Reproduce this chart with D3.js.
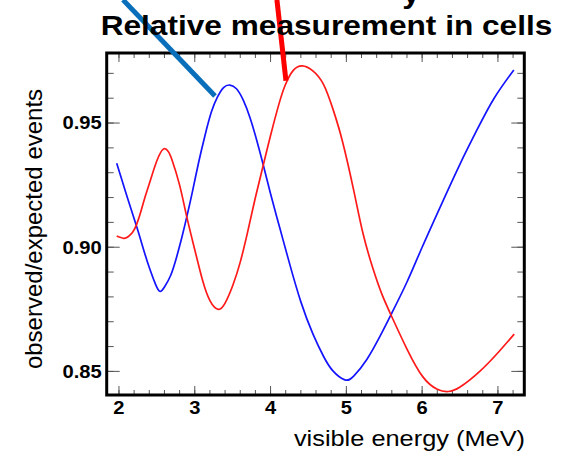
<!DOCTYPE html>
<html>
<head>
<meta charset="utf-8">
<script src="https://cdn.jsdelivr.net/npm/d3@7"></script>
<style>
  body { margin: 0; background: #fff; }
  svg { display: block; font-family: "Liberation Sans", Arial, sans-serif; }
</style>
</head>
<body>
<svg id="vis"></svg>
<script>
// values (energy in MeV, ratio observed/expected)
const blueEnergy = [1.97, 2.10, 2.233, 2.33, 2.40, 2.46, 2.53, 2.60, 2.68, 2.76, 2.83, 2.893, 2.97, 3.05, 3.135, 3.22, 3.30, 3.38, 3.464, 3.55, 3.64, 3.73, 3.82, 3.904, 4.00, 4.124, 4.25, 4.40, 4.56, 4.70, 4.82, 4.98, 5.10, 5.27, 5.45, 5.60, 5.80, 6.00, 6.28, 6.50, 6.72, 6.95, 7.21];
const blueRatio  = [0.9338, 0.9210, 0.9083, 0.8985, 0.8918, 0.8868, 0.8824, 0.8840, 0.8885, 0.8960, 0.9040, 0.9120, 0.9225, 0.9340, 0.9450, 0.9545, 0.9605, 0.9643, 0.9653, 0.9638, 0.9592, 0.9520, 0.9428, 0.9331, 0.9215, 0.9075, 0.8935, 0.8780, 0.8650, 0.8560, 0.8503, 0.8466, 0.8482, 0.8548, 0.8645, 0.8735, 0.8860, 0.9000, 0.9190, 0.9335, 0.9470, 0.9600, 0.9714];

const redEnergy = [1.97, 2.06, 2.12, 2.18, 2.233, 2.29, 2.35, 2.42, 2.50, 2.585, 2.65, 2.70, 2.80, 2.89, 3.00, 3.10, 3.20, 3.31, 3.40, 3.50, 3.60, 3.70, 3.80, 3.904, 4.00, 4.10, 4.19, 4.30, 4.42, 4.55, 4.70, 4.83, 4.95, 5.10, 5.22, 5.35, 5.47, 5.60, 5.80, 6.01, 6.20, 6.344, 6.50, 6.76, 7.00, 7.215];
const redRatio  = [0.9045, 0.9036, 0.9042, 0.9060, 0.9092, 0.9145, 0.9208, 0.9275, 0.9348, 0.9395, 0.9385, 0.9351, 0.9250, 0.9128, 0.8990, 0.8870, 0.8785, 0.8750, 0.8775, 0.8845, 0.8940, 0.9065, 0.9200, 0.9331, 0.9450, 0.9565, 0.9650, 0.9712, 0.9730, 0.9712, 0.9655, 0.9550, 0.9425, 0.9225, 0.9055, 0.8915, 0.8810, 0.8720, 0.8590, 0.8478, 0.8428, 0.8419, 0.8437, 0.8500, 0.8575, 0.8650];

const xTicks = [2, 3, 4, 5, 6, 7];
const yTicks = [0.85, 0.90, 0.95];
const yTickLabels = ["0.85", "0.90", "0.95"];

// pointer lines coming down from the slide text above, in data units
const blueCallout = [[2.053, 0.9996], [3.267, 0.9609]];
const redCallout = [[4.084, 0.9996], [4.203, 0.9670]];

const titleText = "Relative measurement in cells";
const xTitle = "visible energy (MeV)";
const yTitle = "observed/expected events";

const width = 574, height = 454;
const frame = {left: 106.7, right: 524.3, top: 53, bottom: 395};
const stretch = 1.12; // picture is widened a bit, text glyphs too

const svg = d3.select("#vis").attr("width", width).attr("height", height);

const x = d3.scaleLinear().domain([1.838, 7.348]).range([frame.left, frame.right]);
const y = d3.scaleLinear().domain([0.8405, 0.9782]).range([frame.bottom, frame.top]);

// minor ticks every 0.2 MeV and every 0.01
const xMinor = d3.range(2, 7.3, 0.2).filter(v => x(v) > frame.left + 2 && x(v) < frame.right - 2);
const yMinor = d3.range(0.84, 0.98, 0.01).filter(v => y(v) < frame.bottom - 2 && y(v) > frame.top + 2);

const ticks = svg.append("g").attr("stroke", "#555").attr("stroke-width", 1);

function addTicks(vals, len, isX) {
    vals.forEach(v => {
        if (isX) {
            ticks.append("line").attr("x1", x(v)).attr("x2", x(v)).attr("y1", frame.bottom).attr("y2", frame.bottom - len);
            ticks.append("line").attr("x1", x(v)).attr("x2", x(v)).attr("y1", frame.top).attr("y2", frame.top + len);
        } else {
            ticks.append("line").attr("y1", y(v)).attr("y2", y(v)).attr("x1", frame.left).attr("x2", frame.left + len);
            ticks.append("line").attr("y1", y(v)).attr("y2", y(v)).attr("x1", frame.right).attr("x2", frame.right - len);
        }
    });
}
addTicks(xMinor, 5, true);
addTicks(xTicks, 9, true);
addTicks(yMinor, 7, false);
addTicks(yTicks, 13, false);

const line = d3.line().x(d => x(d[0])).y(d => y(d[1])).curve(d3.curveNatural);

svg.append("path")
    .datum(blueEnergy.map((e, i) => [e, blueRatio[i]]))
    .attr("d", line)
    .attr("fill", "none")
    .attr("stroke", "#1414ff")
    .attr("stroke-width", 1.7);

svg.append("path")
    .datum(redEnergy.map((e, i) => [e, redRatio[i]]))
    .attr("d", line)
    .attr("fill", "none")
    .attr("stroke", "#ff1a1a")
    .attr("stroke-width", 1.7);

// frame
svg.append("rect")
    .attr("x", frame.left).attr("y", frame.top)
    .attr("width", frame.right - frame.left).attr("height", frame.bottom - frame.top)
    .attr("fill", "none").attr("stroke", "#000").attr("stroke-width", 3);

// callout lines
const straight = d3.line().x(d => x(d[0])).y(d => y(d[1]));
svg.append("path").attr("d", straight(blueCallout))
    .attr("stroke", "#0a6fba").attr("stroke-width", 5).attr("fill", "none");
svg.append("path").attr("d", straight(redCallout))
    .attr("stroke", "#ff0000").attr("stroke-width", 5).attr("fill", "none");

function placeText(txt, px, py, size, weight, anchor, k) {
    return svg.append("text")
        .attr("transform", `translate(${px},${py}) scale(${k},1)`)
        .attr("text-anchor", anchor)
        .attr("font-size", size)
        .attr("font-weight", weight)
        .attr("fill", "#000")
        .text(txt);
}

// tick labels
xTicks.forEach(v => placeText(String(v), x(v), 414, 18, "bold", "middle", stretch));
yTicks.forEach((v, i) => placeText(yTickLabels[i], 101.7, y(v) + 6.3, 18, "bold", "end", stretch));

// axis titles
placeText(xTitle, 525, 446, 22.5, "normal", "end", 1.127);
svg.append("text")
    .attr("transform", `translate(42,229) rotate(-90)`)
    .attr("text-anchor", "middle")
    .attr("font-size", 24)
    .text(yTitle);

// title and the tail of a cut-off line above it
placeText(titleText, 326.5, 34.5, 28, "bold", "middle", 1.13);
placeText("y", 411, 3, 28, "bold", "middle", 1.13);
</script>
</body>
</html>
